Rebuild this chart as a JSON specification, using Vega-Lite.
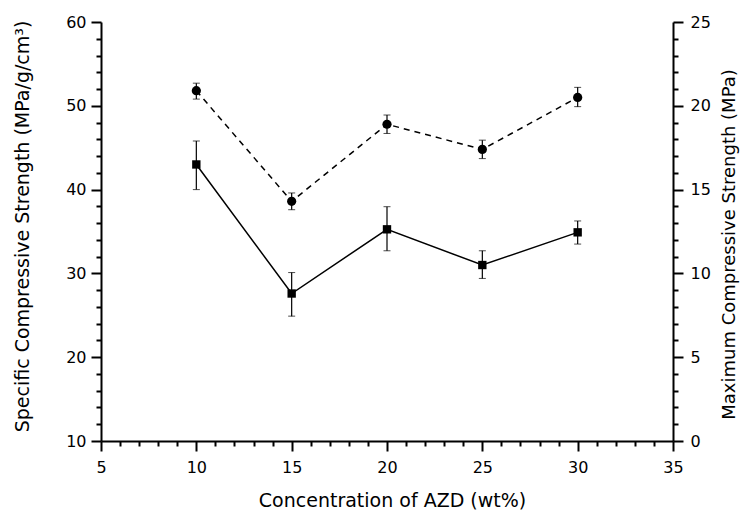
{
  "$schema": "https://vega.github.io/schema/vega-lite/v6.json",
  "autosize": "none",
  "width": 572,
  "height": 419,
  "padding": {"left": 101, "top": 22, "right": 68, "bottom": 71},
  "background": "white",
  "config": {
    "view": {"stroke": null},
    "font": "DejaVu Sans",
    "axis": {
      "domainColor": "black",
      "domainWidth": 2,
      "tickColor": "black",
      "tickWidth": 2,
      "labelColor": "black",
      "labelFontSize": 16,
      "titleFontSize": 19,
      "titleFontWeight": "normal",
      "titleColor": "black",
      "grid": false
    }
  },
  "datasets": {
    "specific": [
      {"conc": 10, "value": 51.8, "lo": 50.8, "hi": 52.7},
      {"conc": 15, "value": 38.6, "lo": 37.6, "hi": 39.6},
      {"conc": 20, "value": 47.8, "lo": 46.7, "hi": 48.9},
      {"conc": 25, "value": 44.8, "lo": 43.7, "hi": 45.9},
      {"conc": 30, "value": 51.0, "lo": 49.9, "hi": 52.2}
    ],
    "maximum": [
      {"conc": 10, "value": 16.5, "lo": 15.0, "hi": 17.9},
      {"conc": 15, "value": 8.8, "lo": 7.45, "hi": 10.05},
      {"conc": 20, "value": 12.63, "lo": 11.35, "hi": 13.98},
      {"conc": 25, "value": 10.5, "lo": 9.7, "hi": 11.35},
      {"conc": 30, "value": 12.45, "lo": 11.75, "hi": 13.13}
    ]
  },
  "encoding": {
    "x": {
      "field": "conc",
      "type": "quantitative",
      "scale": {"domain": [5, 35], "nice": false, "zero": false},
      "axis": {
        "title": "Concentration of AZD (wt%)",
        "values": [5,6,7,8,9,10,11,12,13,14,15,16,17,18,19,20,21,22,23,24,25,26,27,28,29,30,31,32,33,34,35],
        "labelExpr": "datum.value % 5 === 0 ? datum.label : ''",
        "tickSize": {"condition": {"test": "datum.value % 5 === 0", "value": 10}, "value": 5},
        "labelPadding": 8,
        "titleX": 291,
        "titleY": 59,
        "titleBaseline": "middle",
        "labelFlush": false,
        "labelOverlap": false
      }
    }
  },
  "layer": [
    {
      "data": {"name": "specific"},
      "encoding": {
        "y": {
          "field": "value",
          "type": "quantitative",
          "scale": {"domain": [10, 60], "nice": false, "zero": false},
          "axis": {
            "orient": "left",
            "title": "Specific Compressive Strength (MPa/g/cm³)",
            "values": [10,12,14,16,18,20,22,24,26,28,30,32,34,36,38,40,42,44,46,48,50,52,54,56,58,60],
            "labelExpr": "datum.value % 10 === 0 ? datum.label : ''",
            "tickSize": {"condition": {"test": "datum.value % 10 === 0", "value": 10}, "value": 5},
            "labelPadding": 5,
            "titleX": -79,
            "titleY": 204,
            "titleAngle": 270,
            "titleAlign": "center",
            "titleBaseline": "middle",
            "labelFlush": false,
            "labelOverlap": false
          }
        }
      },
      "layer": [
        {"mark": {"type": "line", "color": "black", "strokeWidth": 1.5, "strokeDash": [6, 5]}},
        {
          "mark": {"type": "errorbar", "color": "black", "ticks": {"size": 7, "color": "black"}, "rule": {"strokeWidth": 1.2}},
          "encoding": {"y": {"field": "lo", "type": "quantitative"}, "y2": {"field": "hi"}}
        },
        {"mark": {"type": "point", "shape": "circle", "filled": true, "color": "black", "opacity": 1, "size": 85}}
      ]
    },
    {
      "data": {"name": "maximum"},
      "encoding": {
        "y": {
          "field": "value",
          "type": "quantitative",
          "scale": {"domain": [0, 25], "nice": false, "zero": false},
          "axis": {
            "orient": "right",
            "title": "Maximum Compressive Strength (MPa)",
            "titleFontSize": 18,
            "values": [0,1,2,3,4,5,6,7,8,9,10,11,12,13,14,15,16,17,18,19,20,21,22,23,24,25],
            "labelExpr": "datum.value % 5 === 0 ? datum.label : ''",
            "tickSize": {"condition": {"test": "datum.value % 5 === 0", "value": 10}, "value": 5},
            "labelPadding": 7,
            "titleX": 56,
            "titleY": 222,
            "titleAngle": 270,
            "titleAlign": "center",
            "titleBaseline": "middle",
            "labelFlush": false,
            "labelOverlap": false
          }
        }
      },
      "layer": [
        {"mark": {"type": "line", "color": "black", "strokeWidth": 1.5}},
        {
          "mark": {"type": "errorbar", "color": "black", "ticks": {"size": 7, "color": "black"}, "rule": {"strokeWidth": 1.2}},
          "encoding": {"y": {"field": "lo", "type": "quantitative"}, "y2": {"field": "hi"}}
        },
        {"mark": {"type": "point", "shape": "square", "filled": true, "color": "black", "opacity": 1, "size": 70}}
      ]
    }
  ],
  "resolve": {"scale": {"y": "independent"}, "axis": {"y": "independent"}}
}
